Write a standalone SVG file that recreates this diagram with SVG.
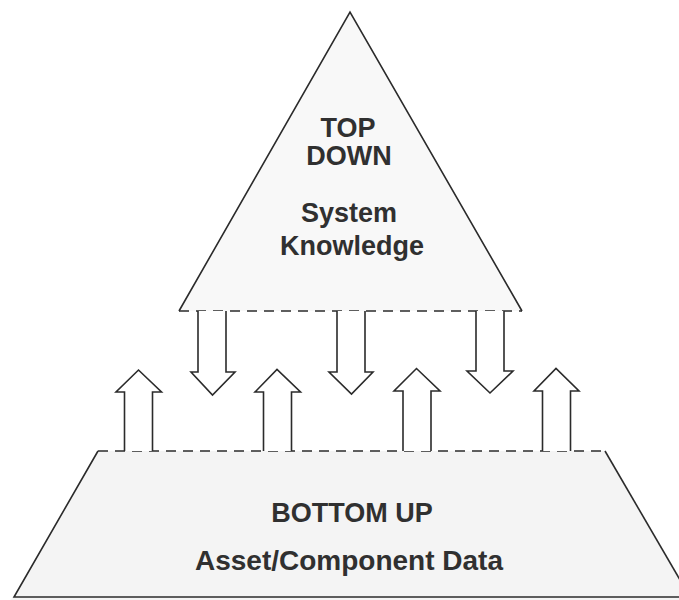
<svg xmlns="http://www.w3.org/2000/svg" width="679" height="600" viewBox="0 0 679 600">
  <style>
    .edge { fill: none; stroke: #2b2b2b; stroke-width: 1.6; stroke-linejoin: miter; }
    .dash { fill: none; stroke: #2b2b2b; stroke-width: 1.6; stroke-dasharray: 10 7; }
    .arrow { fill: #ffffff; stroke: #2b2b2b; stroke-width: 1.6; stroke-linejoin: miter; }
    .lbl { font-family: "Liberation Sans", Arial, Helvetica, sans-serif; font-weight: bold; font-size: 27px; fill: #303030; text-anchor: middle; }
  </style>
  <rect x="0" y="0" width="679" height="600" fill="#ffffff"/>

  <g id="top-down">
    <path d="M179,311 L350,12 L522,311 Z" fill="#f8f8f8" stroke="none"/>
    <path class="edge" d="M179,311 L350,12 L522,311"/>
    <line class="dash" x1="179" y1="311" x2="522" y2="311"/>
    <text class="lbl" x="348" y="137">TOP</text>
    <text class="lbl" x="349" y="165">DOWN</text>
    <text class="lbl" x="349" y="222">System</text>
    <text class="lbl" x="352" y="255">Knowledge</text>
  </g>

  <g id="bottom-up">
    <path d="M98,451 L605,451 L692,600 L10,600 L14,597 Z" fill="#f4f4f4" stroke="none"/>
    <path class="edge" d="M98,451 L14,597 L679,597"/>
    <path class="edge" d="M605,451 L690,597"/>
    <line class="dash" x1="98" y1="451" x2="605" y2="451"/>
    <text class="lbl" x="352" y="522">BOTTOM UP</text>
    <text class="lbl" x="349" y="570" style="font-size:28px">Asset/Component Data</text>
  </g>

  <g id="connectors">
    <!-- down arrows -->
    <path class="arrow" d="M198,311 L198,372 L191,372 L212.5,395 L235,372 L226,372 L226,311"/>
    <path class="arrow" d="M337,311 L337,372 L329,372 L351.5,394 L373,372 L365,372 L365,311"/>
    <path class="arrow" d="M476,311 L476,371 L467,371 L490,393 L513,371 L504,371 L504,311"/>
    <!-- up arrows -->
    <path class="arrow" d="M124.5,451 L124.5,392 L116,392 L138.5,370 L161.5,392 L152.5,392 L152.5,451"/>
    <path class="arrow" d="M263.5,451 L263.5,392 L255,392 L277,369.5 L300.5,392 L291.5,392 L291.5,451"/>
    <path class="arrow" d="M403,451 L403,391 L394,391 L416.5,368.5 L440,391 L431,391 L431,451"/>
    <path class="arrow" d="M542.5,451 L542.5,391 L534,391 L556,368.5 L579,391 L570.5,391 L570.5,451"/>
  </g>
</svg>
